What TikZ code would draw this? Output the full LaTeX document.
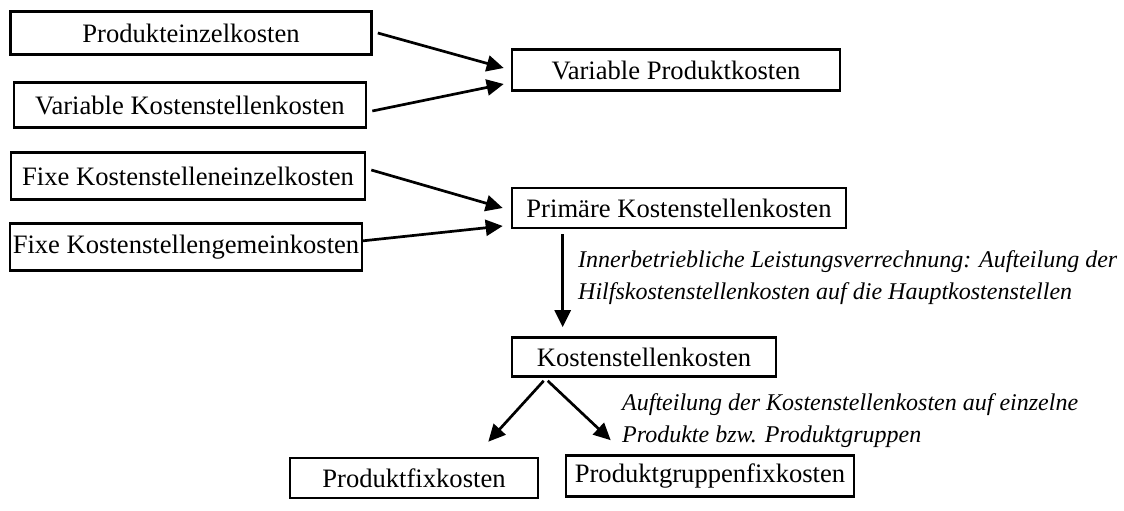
\documentclass[tikz,border=0pt]{standalone}
\usepackage{fontspec}
\setmainfont{Liberation Serif}
\usetikzlibrary{arrows.meta}

\begin{document}
\begin{tikzpicture}[x=1pt, y=-1pt,
  box/.style={draw, line width=2.6pt, inner sep=0pt, font=\fontsize{26.6}{30}\selectfont},
  arr/.style={-{Triangle[length=17pt, width=16pt]}, line width=2.7pt},
  note/.style={align=left, anchor=west, inner sep=0pt, font=\fontsize{24}{32}\selectfont\itshape}]
\useasboundingbox (0,0) rectangle (1124,511);

\node[box, minimum width=361pt, minimum height=43pt] (prodEK) at (191,33) {Produkteinzelkosten};
\node[box, minimum width=352pt, minimum height=45pt] (varKS) at (190,105) {Variable Kostenstellenkosten};
\node[box, minimum width=328pt, minimum height=41pt] (varPK) at (676,70) {Variable Produktkosten};
\node[box, minimum width=354pt, minimum height=47pt] (fixEK) at (188,176) {Fixe Kostenstelleneinzelkosten};
\node[box, minimum width=352pt, minimum height=47pt] (fixGK) at (186,247) {Fixe Kostenstellengemeinkosten};
\node[box, minimum width=334pt, minimum height=40pt] (primKS) at (679,208) {Primäre Kostenstellenkosten};
\node[box, minimum width=264pt, minimum height=39pt] (ksk) at (644,357) {Kostenstellenkosten};
\node[box, minimum width=248pt, minimum height=40pt] (pfk) at (414,478) {Produktfixkosten};
\node[box, minimum width=288pt, minimum height=41pt] (pgfk) at (710,476) {Produktgruppenfixkosten};

\draw[arr] ([xshift=5pt]prodEK.east) -- ([shift={(-7,-2)}]varPK.west);
\draw[arr] ([shift={(5,6)}]varKS.east) -- ([shift={(-7,14)}]varPK.west);
\draw[arr] ([shift={(5,-6)}]fixEK.east) -- ([shift={(-8,0)}]primKS.west);
\draw[arr] ([shift={(-2,-6)}]fixGK.east) -- ([shift={(-8,18)}]primKS.west);
\draw[arr] ([shift={(52,5)}]primKS.south west) -- ([shift={(52,-9)}]ksk.north west);
\draw[arr] ([shift={(33,3)}]ksk.south west) -- ([shift={(-51,-15)}]pfk.north east);
\draw[arr] ([shift={(37,3)}]ksk.south west) -- ([shift={(46,-14)}]pgfk.north west);

\node[note] (inner) at (578,278) {Innerbetriebliche Leistungsverrechnung: Aufteilung der\\Hilfskostenstellenkosten auf die Hauptkostenstellen};
\node[note] (aufteil) at (622,421) {Aufteilung der Kostenstellenkosten auf einzelne\\Produkte bzw. Produktgruppen};
\end{tikzpicture}
\end{document}
